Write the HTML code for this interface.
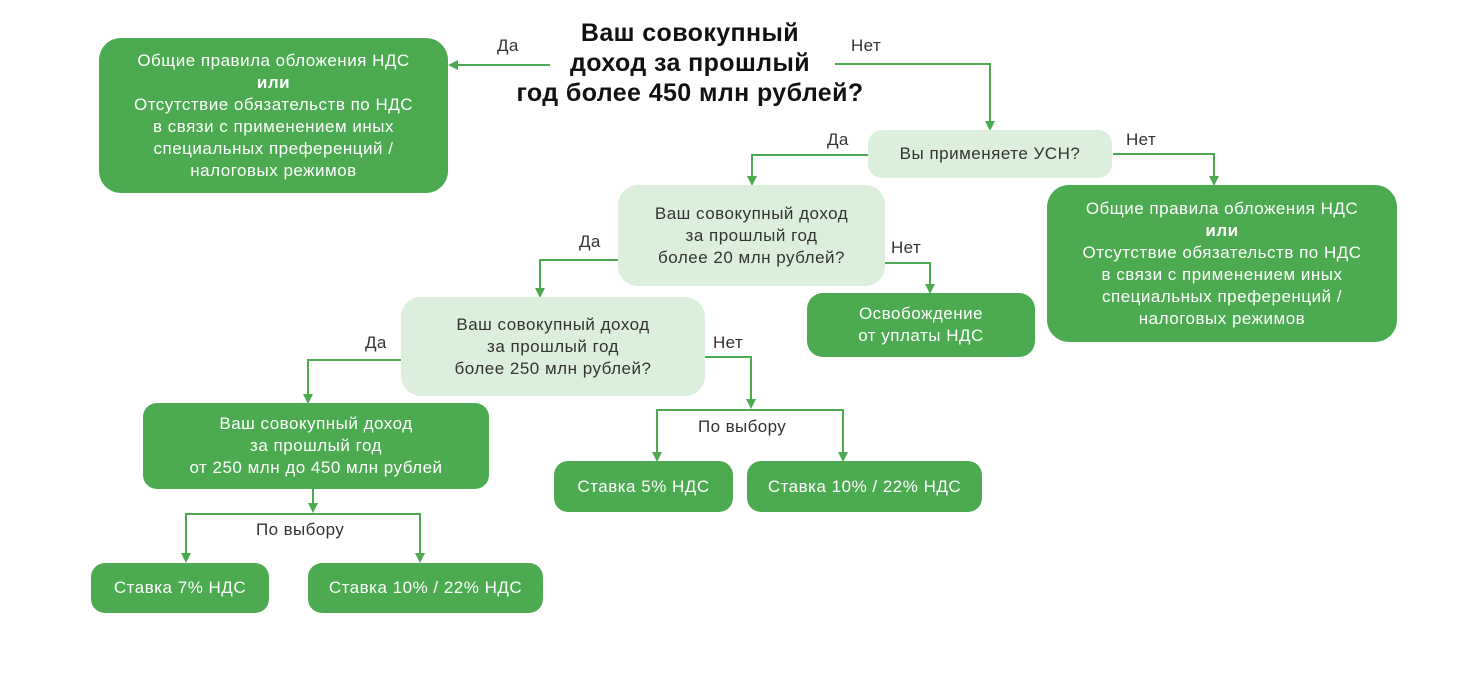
<!DOCTYPE html>
<html><head><meta charset="utf-8"><style>
body{margin:0;width:1465px;height:691px;background:#fff;position:relative;overflow:hidden;font-family:"Liberation Sans","DejaVu Sans",sans-serif;}
.b{position:absolute;display:flex;align-items:center;justify-content:center;text-align:center;border-radius:20px;font-size:17px;line-height:22px;letter-spacing:0.5px;box-sizing:border-box}
.b>div{white-space:nowrap}
.d{background:#4caa50;color:#fff}
.l{background:#dcefdc;color:#333}
.t{position:absolute;font-size:17px;color:#333;letter-spacing:0.4px}
svg{position:absolute;left:0;top:0}
</style></head><body>
<svg width="1465" height="691" fill="none" stroke="#4caa50" stroke-width="2">
<defs><marker id="a" markerWidth="10" markerHeight="10" refX="8" refY="5" orient="auto" markerUnits="userSpaceOnUse"><path d="M0,0 L10,5 L0,10 z" fill="#4caa50" stroke="none"/></marker></defs>
<path d="M550,65 H450" marker-end="url(#a)"/>
<path d="M835,64 H990 V129" marker-end="url(#a)"/>
<path d="M868,155 H752 V184" marker-end="url(#a)"/>
<path d="M1113,154 H1214 V184" marker-end="url(#a)"/>
<path d="M618,260 H540 V296" marker-end="url(#a)"/>
<path d="M885,263 H930 V292" marker-end="url(#a)"/>
<path d="M401,360 H308 V402" marker-end="url(#a)"/>
<path d="M705,357 H751 V407" marker-end="url(#a)"/>
<path d="M657,460 V410 H843 V460"/>
<path d="M657,450 V460" marker-end="url(#a)"/><path d="M843,450 V460" marker-end="url(#a)"/>
<path d="M313,489 V511" marker-end="url(#a)"/>
<path d="M186,561 V514 H420 V561"/>
<path d="M186,550 V561" marker-end="url(#a)"/><path d="M420,550 V561" marker-end="url(#a)"/>
</svg>
<div class="b d" style="left:99px;top:38px;width:349px;height:155px;border-radius:22px"><div>Общие правила обложения НДС<br><b>или</b><br>Отсутствие обязательств по НДС<br>в связи с применением иных<br>специальных преференций /<br>налоговых режимов</div></div>
<div class="t" style="left:480px;top:18px;width:420px;text-align:center;font-size:25px;line-height:30px;font-weight:bold;color:#111;letter-spacing:0.4px">Ваш совокупный<br>доход за прошлый<br>год более 450 млн рублей?</div>
<div class="b l" style="left:868px;top:130px;width:244px;height:48px;border-radius:14px"><div>Вы применяете УСН?</div></div>
<div class="b d" style="left:1047px;top:185px;width:350px;height:157px;border-radius:22px"><div>Общие правила обложения НДС<br><b>или</b><br>Отсутствие обязательств по НДС<br>в связи с применением иных<br>специальных преференций /<br>налоговых режимов</div></div>
<div class="b l" style="left:618px;top:185px;width:267px;height:101px"><div>Ваш совокупный доход<br>за прошлый год<br>более 20 млн рублей?</div></div>
<div class="b d" style="left:807px;top:293px;width:228px;height:64px;border-radius:16px"><div>Освобождение<br>от уплаты НДС</div></div>
<div class="b l" style="left:401px;top:297px;width:304px;height:99px"><div>Ваш совокупный доход<br>за прошлый год<br>более 250 млн рублей?</div></div>
<div class="b d" style="left:143px;top:403px;width:346px;height:86px;border-radius:14px"><div>Ваш совокупный доход<br>за прошлый год<br>от 250 млн до 450 млн рублей</div></div>
<div class="b d" style="left:554px;top:461px;width:179px;height:51px;border-radius:14px"><div>Ставка 5% НДС</div></div>
<div class="b d" style="left:747px;top:461px;width:235px;height:51px;border-radius:14px"><div>Ставка 10% / 22% НДС</div></div>
<div class="b d" style="left:91px;top:563px;width:178px;height:50px;border-radius:14px"><div>Ставка 7% НДС</div></div>
<div class="b d" style="left:308px;top:563px;width:235px;height:50px;border-radius:14px"><div>Ставка 10% / 22% НДС</div></div>
<div class="t" style="left:497px;top:36px">Да</div>
<div class="t" style="left:851px;top:36px">Нет</div>
<div class="t" style="left:827px;top:130px">Да</div>
<div class="t" style="left:1126px;top:130px">Нет</div>
<div class="t" style="left:579px;top:232px">Да</div>
<div class="t" style="left:891px;top:238px">Нет</div>
<div class="t" style="left:365px;top:333px">Да</div>
<div class="t" style="left:713px;top:333px">Нет</div>
<div class="t" style="left:698px;top:417px">По выбору</div>
<div class="t" style="left:256px;top:520px">По выбору</div>
</body></html>
